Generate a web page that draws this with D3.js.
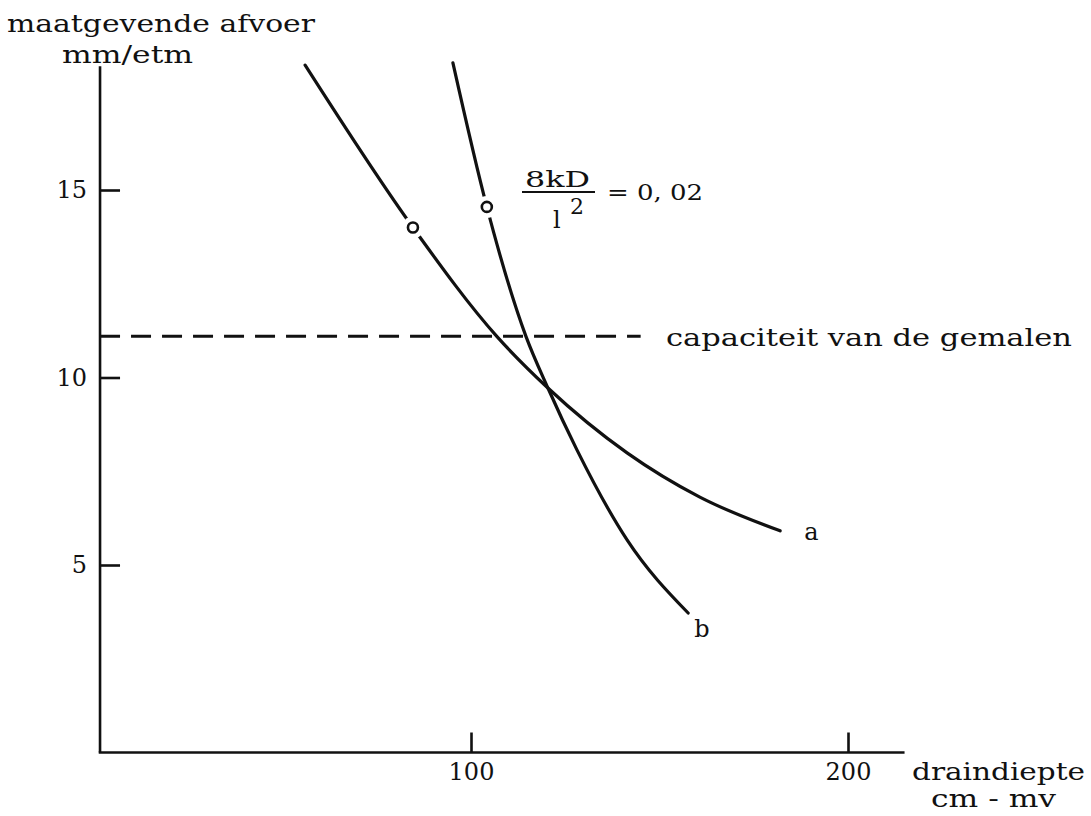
<!DOCTYPE html>
<html>
<head>
<meta charset="utf-8">
<script src="https://cdn.jsdelivr.net/npm/d3@7"></script>
<style>
  html, body { margin: 0; padding: 0; background: #fff; }
  svg text { font-family: "DejaVu Serif", "Liberation Serif", serif; fill: #111; }
</style>
</head>
<body>
<svg id="chart" width="1091" height="816"></svg>
<script>
// ---- data ----
const xTicks = [100, 200];
const yTicks = [5, 10, 15];
const curveA_x = [56.0, 84.6, 106.9, 120.4, 141.4, 160.7, 182.0];
const curveA_y = [18.33, 14.0, 11.09, 9.72, 7.99, 6.81, 5.91];
const curveB_x = [95.2, 104.2, 114.6, 120.4, 128.1, 141.4, 157.6];
const curveB_y = [18.39, 14.55, 11.09, 9.72, 8.07, 5.67, 3.72];
const markedX = [84.6, 104.2];
const markedY = [14.0, 14.55];
const capacity = 11.1;
const capacityRange = [1.6, 145];
const labels = { a: "a", b: "b" };

const svg = d3.select("#chart");
const x = d3.scaleLinear().domain([0, 200]).range([94, 848]);
const y = d3.scaleLinear().domain([0, 15]).range([752.5, 190]);

const ink = "#111";

// axes lines
svg.append("line").attr("x1", x(1.6)).attr("x2", x(1.6))
  .attr("y1", y(18.3)).attr("y2", y(0))
  .attr("stroke", ink).attr("stroke-width", 2.6);
svg.append("line").attr("x1", x(1.6) - 1.3).attr("x2", x(215)).attr("y1", y(0)).attr("y2", y(0))
  .attr("stroke", ink).attr("stroke-width", 2.6);

// x axis ticks
const gx = svg.append("g").attr("transform", `translate(0,${y(0)})`)
  .call(d3.axisBottom(x).tickValues(xTicks).tickSizeInner(-20).tickSizeOuter(0).tickPadding(10));
gx.select(".domain").remove();
gx.attr("font-size", null).attr("font-family", null);
gx.selectAll(".tick line").attr("stroke", ink).attr("stroke-width", 2.6);
gx.selectAll(".tick text").style("font-family", "DejaVu Serif").style("font-size", "24px").attr("fill", ink);

// y axis ticks
const gy = svg.append("g").attr("transform", `translate(${x(1.6)},0)`)
  .call(d3.axisLeft(y).tickValues(yTicks).tickSizeInner(-20).tickSizeOuter(0).tickPadding(13));
gy.select(".domain").remove();
gy.attr("font-size", null).attr("font-family", null);
gy.selectAll(".tick line").attr("stroke", ink).attr("stroke-width", 2.6);
gy.selectAll(".tick text").style("font-family", "DejaVu Serif").style("font-size", "24px").attr("fill", ink);

// capacity dashed line
svg.append("line")
  .attr("x1", x(capacityRange[0])).attr("x2", x(capacityRange[1]))
  .attr("y1", y(capacity)).attr("y2", y(capacity))
  .attr("stroke", ink).attr("stroke-width", 3).attr("stroke-dasharray", "20,11");

// curves
const line = d3.line().x(d => x(d[0])).y(d => y(d[1])).curve(d3.curveMonotoneX);
const ptsA = curveA_x.map((v, i) => [v, curveA_y[i]]);
const ptsB = curveB_x.map((v, i) => [v, curveB_y[i]]);
[ptsA, ptsB].forEach(p => {
  svg.append("path").attr("d", line(p)).attr("fill", "none")
    .attr("stroke", ink).attr("stroke-width", 3.2).attr("stroke-linecap", "round");
});

// marked points with gap
markedX.forEach((v, i) => {
  svg.append("circle").attr("cx", x(v)).attr("cy", y(markedY[i])).attr("r", 11).attr("fill", "#fff");
  svg.append("circle").attr("cx", x(v)).attr("cy", y(markedY[i])).attr("r", 5)
    .attr("fill", "#fff").attr("stroke", ink).attr("stroke-width", 2.6);
});

// texts
function txt(str, px, py, size, len, anchor) {
  const t = svg.append("text").attr("x", px).attr("y", py).style("font-size", size + "px").text(str);
  if (len) t.attr("textLength", len).attr("lengthAdjust", "spacingAndGlyphs");
  if (anchor) t.attr("text-anchor", anchor);
  return t;
}
txt("maatgevende afvoer", 7, 32, 24, 308);
txt("mm/etm", 62, 63, 24, 131);
txt("capaciteit van de gemalen", 666, 346, 24, 406);
txt(labels.a, x(182) + 24, 540, 24);
txt(labels.b, x(157.6) + 6, 637, 24);
txt("draindiepte", 912, 780, 24, 173);
txt("cm - mv", 931, 807, 24, 125);

// formula
txt("8kD", 525, 187, 22, 65);
svg.append("line").attr("x1", 522).attr("x2", 595).attr("y1", 192).attr("y2", 192)
  .attr("stroke", ink).attr("stroke-width", 2);
txt("l", 553, 228, 24);
txt("2", 570, 214, 22);
txt("= 0, 02", 607, 200, 22, 96);
</script>
</body>
</html>
